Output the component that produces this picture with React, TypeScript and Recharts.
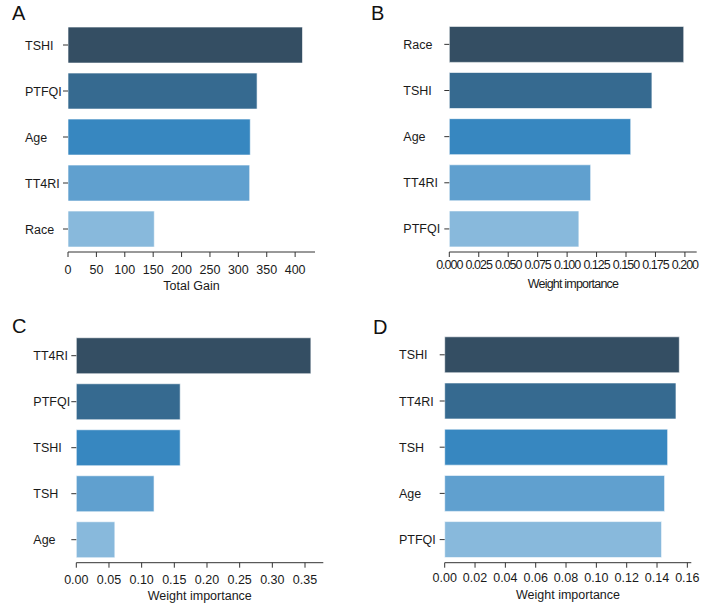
import React from 'react';
import { BarChart, Bar, XAxis, YAxis, Cell, Label } from 'recharts';

// Panel A: total gain
const gainFeatures = ['TSHI', 'PTFQI', 'Age', 'TT4RI', 'Race'];
const gainValues = [413, 333, 321, 320, 152];
const gainTicks = [0, 50, 100, 150, 200, 250, 300, 350, 400];

// Panel B: weight importance
const weightBFeatures = ['Race', 'TSHI', 'Age', 'TT4RI', 'PTFQI'];
const weightBValues = [0.199, 0.172, 0.154, 0.12, 0.11];
const weightBTicks = [0, 0.025, 0.05, 0.075, 0.1, 0.125, 0.15, 0.175, 0.2];

// Panel C: weight importance
const weightCFeatures = ['TT4RI', 'PTFQI', 'TSHI', 'TSH', 'Age'];
const weightCValues = [0.359, 0.159, 0.159, 0.119, 0.059];
const weightCTicks = [0, 0.05, 0.1, 0.15, 0.2, 0.25, 0.3, 0.35];

// Panel D: weight importance
const weightDFeatures = ['TSHI', 'TT4RI', 'TSH', 'Age', 'PTFQI'];
const weightDValues = [0.1547, 0.1525, 0.147, 0.145, 0.143];
const weightDTicks = [0, 0.02, 0.04, 0.06, 0.08, 0.1, 0.12, 0.14, 0.16];

// seaborn-ish Blues_d, darkest first
const palette = ['#344e63', '#366a90', '#3787c0', '#60a0cf', '#88b9dc'];

const FONT = '"Liberation Sans", Arial, sans-serif';
const AXIS = '#333333';

interface PanelProps {
  letter: string;
  left: number;
  top: number;
  features: string[];
  values: number[];
  ticks: number[];
  domainMax: number;
  digits: number;
  axisTitle: string;
  plotLeft: number;
  plotRight: number;
  plotTop: number;
  plotBottom: number;
  labelX: number;
  tickMargin: number;
  titleBaseline: number;
  letterPos: { x: number; y: number };
  tickFont?: number;
  tickSpacing?: number;
  titleSpacing?: number;
}

const W = 354;
const H = 303;

const Panel: React.FC<PanelProps> = (p) => {
  const data = p.features.map((name, i) => ({ name, value: p.values[i] }));
  const axisHeight = p.titleBaseline - p.plotBottom;

  const renderYTick = (props: any) => {
    const { y, payload } = props;
    return (
      <text x={p.labelX} y={y} dy={4.5} textAnchor="start" fontSize={12.5} fill="#1a1a1a" fontFamily={FONT}>
        {payload.value}
      </text>
    );
  };

  return (
    <div style={{ position: 'absolute', left: p.left, top: p.top, width: W, height: H }}>
      <div
        style={{
          position: 'absolute',
          left: p.letterPos.x,
          top: p.letterPos.y,
          fontSize: 20,
          lineHeight: 1,
          fontFamily: FONT,
          color: '#111',
        }}
      >
        {p.letter}
      </div>
      <BarChart
        width={W}
        height={H}
        data={data}
        layout="vertical"
        margin={{ top: p.plotTop, right: W - p.plotRight, bottom: H - p.plotBottom - axisHeight, left: 0 }}
        barCategoryGap="11%"
        style={{ fontFamily: FONT }}
      >
        <XAxis
          type="number"
          domain={[0, p.domainMax]}
          ticks={p.ticks}
          interval={0}
          height={axisHeight}
          tickSize={5}
          tickMargin={p.tickMargin}
          stroke={AXIS}
          tickLine={{ stroke: AXIS }}
          axisLine={{ stroke: AXIS }}
          tickFormatter={(v: number) => (p.digits === 0 ? String(v) : v.toFixed(p.digits))}
          tick={{ fontSize: p.tickFont ?? 12.5, fill: '#1a1a1a', letterSpacing: p.tickSpacing ?? 0 }}
        >
          <Label
            value={p.axisTitle}
            position="insideBottom"
            offset={0}
            style={{ fontSize: 12.5, fill: '#1a1a1a', letterSpacing: p.titleSpacing ?? 0 }}
          />
        </XAxis>
        <YAxis
          type="category"
          dataKey="name"
          width={p.plotLeft}
          axisLine={false}
          tickSize={5}
          tickLine={{ stroke: AXIS }}
          tick={renderYTick}
          interval={0}
        />
        <Bar dataKey="value" isAnimationActive={false} stroke="#ffffff" strokeOpacity={0.6} strokeWidth={1}>
          {data.map((d, i) => (
            <Cell key={d.name} fill={palette[i]} />
          ))}
        </Bar>
      </BarChart>
    </div>
  );
};

const App: React.FC = () => {
  return (
    <div style={{ position: 'absolute', left: 0, top: 0, width: 708, height: 606, background: '#fff', overflow: 'hidden' }}>
      <Panel
        letter="A"
        left={0}
        top={0}
        features={gainFeatures}
        values={gainValues}
        ticks={gainTicks}
        domainMax={435}
        digits={0}
        axisTitle="Total Gain"
        plotLeft={68}
        plotRight={315}
        plotTop={22}
        plotBottom={252}
        labelX={25}
        tickMargin={8}
        titleBaseline={290}
        letterPos={{ x: 12, y: 3 }}
      />
      <Panel
        letter="B"
        left={354}
        top={0}
        features={weightBFeatures}
        values={weightBValues}
        ticks={weightBTicks}
        domainMax={0.21}
        digits={3}
        axisTitle="Weight importance"
        plotLeft={95.3}
        plotRight={342.7}
        plotTop={21.3}
        plotBottom={252}
        labelX={49.3}
        tickMargin={3}
        titleBaseline={287.5}
        letterPos={{ x: 17, y: 3 }}
        tickFont={12.5}
        tickSpacing={-1}
        titleSpacing={-0.8}
      />
      <Panel
        letter="C"
        left={0}
        top={303}
        features={weightCFeatures}
        values={weightCValues}
        ticks={weightCTicks}
        domainMax={0.378}
        digits={2}
        axisTitle="Weight importance"
        plotLeft={76.3}
        plotRight={323.3}
        plotTop={29.7}
        plotBottom={259.7}
        labelX={33.3}
        tickMargin={7}
        titleBaseline={297.3}
        letterPos={{ x: 12, y: 13 }}
      />
      <Panel
        letter="D"
        left={354}
        top={303}
        features={weightDFeatures}
        values={weightDValues}
        ticks={weightDTicks}
        domainMax={0.1626}
        digits={2}
        axisTitle="Weight importance"
        plotLeft={90.7}
        plotRight={337.3}
        plotTop={28.7}
        plotBottom={259.7}
        labelX={45}
        tickMargin={5.5}
        titleBaseline={296.3}
        letterPos={{ x: 19, y: 14 }}
      />
    </div>
  );
};

export default App;
